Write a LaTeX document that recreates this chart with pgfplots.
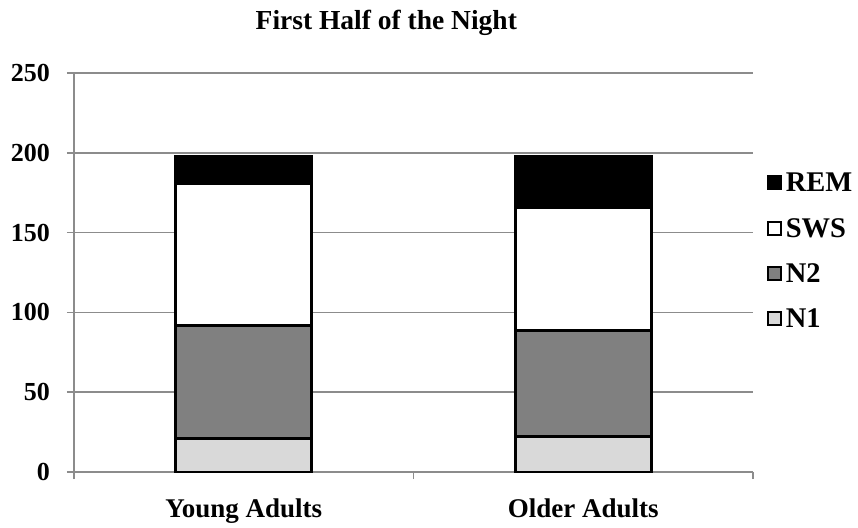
\documentclass[border=0pt]{standalone}
\usepackage{pgfplots}
\pgfplotsset{compat=1.18}
\usepackage{fontspec}
\setmainfont{Liberation Serif}
\definecolor{gridgray}{HTML}{8C8C8C}
\definecolor{nonecolor}{HTML}{D9D9D9}
\definecolor{ntwocolor}{HTML}{808080}
\newcommand{\bigbf}{\fontsize{26}{30}\selectfont\bfseries}
\newcommand{\xbf}{\fontsize{27}{31}\selectfont\bfseries}
\newcommand{\titlebf}{\fontsize{27.5}{32}\selectfont\bfseries}
\newcommand{\legbf}{\fontsize{28.5}{33}\selectfont\bfseries}
\begin{document}
\begin{tikzpicture}
\path[use as bounding box] (-74pt,-55pt) rectangle (784pt,472pt);
\begin{axis}[
  scale only axis,
  width=679pt, height=399pt,
  ybar stacked,
  bar width=0.4,
  xmin=-0.5, xmax=1.5,
  ymin=0, ymax=250,
  ytick={0,50,100,150,200,250},
  xtick={-0.5,0.5,1.5},
  xticklabels={},
  extra x ticks={0,1},
  extra x tick labels={Young Adults, Older Adults},
  extra x tick style={major tick length=0pt, xticklabel style={font=\xbf, anchor=base, yshift=-45pt, inner sep=0pt}},
  axis lines*=left,
  axis line style={gridgray, line width=1.5pt},
  tick style={gridgray, line width=1.5pt},
  major tick length=7pt,
  tick align=outside,
  ymajorgrids,
  major grid style={gridgray, line width=1.5pt},
  /pgf/number format/assume math mode=true,
  tick label style={font=\bigbf},
  yticklabel style={anchor=east, inner sep=0pt, xshift=-17pt},
  title={First Half of the Night},
  title style={font=\titlebf, at={(axis description cs:0.46,1.095)}, anchor=base, inner sep=0pt},
  legend style={draw=none, fill=none, font=\legbf, at={(1.02,0.553)}, anchor=west, row sep=21pt, inner sep=0pt,
    nodes={inner xsep=4pt}},
  legend cell align=left,
  reverse legend,
  legend image code/.code={\draw[#1, line width=2pt] (0pt,-6pt) rectangle (13pt,7pt);},
  every axis plot/.append style={draw=black, line width=3pt},
]
\addplot[fill=nonecolor] coordinates {(0,21) (1,22)};
\addplot[fill=ntwocolor] coordinates {(0,71) (1,66.5)};
\addplot[fill=white] coordinates {(0,88.5) (1,77)};
\addplot[fill=black] coordinates {(0,17) (1,32)};
\legend{N1,N2,SWS,REM}
\end{axis}
\end{tikzpicture}
\end{document}
